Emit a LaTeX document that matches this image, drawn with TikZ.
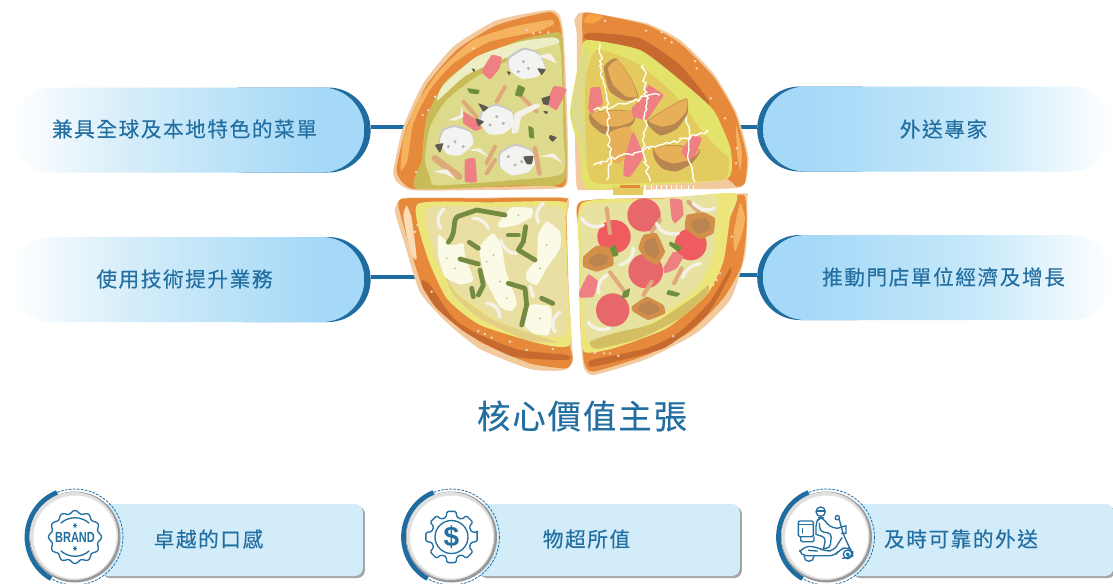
\documentclass[tikz,border=0pt]{standalone}
\usepackage{fontspec}
\usetikzlibrary{shapes.misc,shadows,decorations.pathmorphing}
\newfontfamily\cjk[LetterSpace=7.5,FakeBold=0.25]{Noto Sans CJK TC}
\newfontfamily\cjktitle[LetterSpace=6,FakeBold=0.25]{Noto Sans CJK TC}
\newfontfamily\badgefont{Liberation Sans}
\definecolor{ink}{HTML}{236FA1}
\definecolor{deep}{HTML}{1F6CA0}
\definecolor{card}{HTML}{D3ECF9}
\definecolor{tanedge}{HTML}{F3C99E}
\definecolor{crust}{HTML}{E6893B}
\definecolor{crustlt}{HTML}{F5B25F}
\definecolor{crustdk}{HTML}{C66A30}
\definecolor{cream}{HTML}{FBDDB5}
\definecolor{olive}{HTML}{C9BC58}
\definecolor{sauce}{HTML}{DEDA8B}
\definecolor{paleg}{HTML}{EDEEC4}
\definecolor{mush}{HTML}{F3F3F1}
\definecolor{mushe}{HTML}{C9C9C9}
\definecolor{dark}{HTML}{5E5A50}
\definecolor{pink}{HTML}{EE7F82}
\definecolor{strip}{HTML}{DEAA7C}
\definecolor{leaf}{HTML}{6E8F3B}
\definecolor{onion}{HTML}{F4F1E8}
\definecolor{yell}{HTML}{E3E26B}
\definecolor{gold}{HTML}{E3CB5F}
\definecolor{wedge}{HTML}{E6AF58}
\definecolor{wedged}{HTML}{B8864F}
\definecolor{yell2}{HTML}{ECE67A}
\definecolor{main}{HTML}{E9DFA2}
\definecolor{main2}{HTML}{E7E2A0}
\definecolor{tanlow}{HTML}{D4BE63}
\definecolor{tanlow2}{HTML}{E2CE85}
\definecolor{cheese}{HTML}{FBFAE6}
\definecolor{pepper}{HTML}{768B42}
\definecolor{salami}{HTML}{E8676A}
\definecolor{salami2}{HTML}{EF5C60}
\definecolor{mbrown}{HTML}{D28F4A}
\definecolor{mbrownd}{HTML}{B9844F}
\definecolor{salt}{HTML}{F4D9C2}
\definecolor{pillend}{HTML}{A5D9F7}
\definecolor{pillmid}{HTML}{C6E8FA}
\pgfdeclarehorizontalshading{pillLeft}{100bp}{color(0bp)=(white);color(25bp)=(white);color(43bp)=(card);color(68bp)=(pillend);color(100bp)=(pillend)}
\pgfdeclarehorizontalshading{pillRight}{100bp}{color(0bp)=(pillend);color(32bp)=(pillend);color(55bp)=(pillmid);color(75bp)=(white);color(100bp)=(white)}
\newcommand\blob[2]{\fill[#1] plot[smooth cycle,tension=.35] coordinates {#2};}
\newcommand\chunk[2]{\fill[#1] plot[smooth cycle,tension=.2] coordinates {#2};}
\tikzset{
  pillshape/.style={rounded rectangle,minimum height=63.75pt,inner sep=0pt,draw=none},
  pilllabel/.style={font=\cjk\fontsize{15.5pt}{15.5pt}\selectfont,text=ink,inner sep=0pt},
  link/.style={draw=deep,line width=3.6pt},
  cardbox/.style={rounded corners=6pt,fill=card,minimum height=54pt,inner sep=0pt,
    drop shadow={shadow xshift=1.6pt,shadow yshift=-1.6pt,opacity=.5,fill=black!70}},
  icon/.style={draw=ink,line width=1pt,line cap=round,line join=round},
  stripe/.style={line cap=round,line join=round},
  squig/.style={draw=white!95!yellow,line width=1.05pt,decorate,decoration={random steps,segment length=2.4pt,amplitude=1.6pt}},
  zoomed/.style={x=.25pt,y=-.25pt}
}
\begin{document}
\begin{tikzpicture}[x=.75pt,y=-.75pt]
\useasboundingbox (0,0) rectangle (1113,583);
\fill[white] (0,0) rectangle (1113,583);

% pills
\node[pillshape,fill=deep,minimum width=128pt] (pillAback) at (285.3,130) {};
\node[pillshape,shading=pillLeft,minimum width=265.5pt] (pillA) at (187.3,130) {};
\node[pillshape,fill=deep,minimum width=128pt] (pillBback) at (285.3,279.5) {};
\node[pillshape,shading=pillLeft,minimum width=265.5pt] (pillB) at (187.3,279.5) {};
\node[pillshape,fill=deep,minimum width=107pt] (pillCback) at (828.5,129) {};
\node[pillshape,shading=pillRight,minimum width=262.5pt] (pillC) at (938,129) {};
\node[pillshape,fill=deep,minimum width=107pt] (pillDback) at (828.5,277.5) {};
\node[pillshape,shading=pillRight,minimum width=262.5pt] (pillD) at (938,277.5) {};
\node[pilllabel] (tA) at (184.5,129) {兼具全球及本地特色的菜單};
\node[pilllabel] (tB) at (184.5,279) {使用技術提升業務};
\node[pilllabel] (tC) at (943.5,129) {外送專家};
\node[pilllabel] (tD) at (943.5,277) {推動門店單位經濟及增長};

% connectors
\coordinate (pzA) at (412,127);
\coordinate (pzB) at (418,277);
\coordinate (pzC) at (740,127);
\coordinate (pzD) at (730,275);
\draw[link] (pillAback.east |- pzA) -- (pzA);
\draw[link] (pillBback.east |- pzB) -- (pzB);
\draw[link] (pillCback.west |- pzC) -- (pzC);
\draw[link] (pillDback.west |- pzD) -- (pzD);

% ---------- top pizza slices (3x zoom coordinates)
\begin{scope}[shift={(380,0)},zoomed]
% top-left slice
\blob{tanedge}{(515,30)(540,48)(550,100)(556,200)(563,400)(561,552)(500,567)(300,570)(100,571)(50,545)(40,510)(70,380)(130,250)(220,140)(340,65)(430,42)}
\blob{crust}{(510,36)(535,55)(545,100)(552,250)(558,545)(500,556)(300,562)(100,566)(58,535)(50,500)(80,380)(140,255)(230,150)(340,80)(430,52)}
\blob{crustlt}{(510,60)(522,72)(470,95)(330,125)(220,190)(150,270)(100,370)(82,480)(62,512)(70,420)(110,310)(180,210)(280,120)(400,80)}
\blob{olive}{(510,100)(545,105)(552,250)(554,540)(400,556)(110,566)(125,480)(140,350)(200,240)(300,170)(420,120)}
\blob{sauce}{(530,125)(545,200)(550,400)(548,520)(400,540)(170,556)(150,530)(135,480)(150,380)(200,300)(290,230)(400,175)}
\blob{paleg}{(520,112)(535,130)(400,165)(260,225)(172,302)(190,255)(290,170)(420,125)}
% toppings
\blob{mushe}{(430,143)(475,157)(495,198)(470,228)(425,232)(388,208)(383,173)}
\blob{mush}{(432,150)(475,163)(495,203)(470,231)(425,236)(392,212)(388,178)}
\blob{mushe}{(350,312)(395,332)(400,372)(370,397)(325,397)(298,362)(308,327)}
\blob{mush}{(350,318)(395,337)(400,376)(370,401)(325,402)(302,366)(312,332)}
\blob{mushe}{(225,375)(270,392)(280,427)(240,462)(200,457)(176,422)(188,387)}
\blob{mush}{(225,382)(270,397)(280,431)(240,466)(200,461)(180,426)(192,392)}
\blob{mushe}{(405,432)(450,447)(470,477)(445,512)(395,522)(358,497)(358,457)}
\blob{mush}{(405,438)(450,452)(470,481)(445,516)(395,526)(362,501)(362,462)}
\foreach \a/\b in {430/185,445/205,415/215,350/350,370/370,330/375,225/425,250/440,205/440,405/495,385/470,425/485}{\fill[gray!60] (\a,\b) circle (5);}
\draw[stripe,strip,line width=3pt] (350,305) -- (375,260);
\draw[stripe,strip,line width=3pt] (420,285) -- (470,335);
\draw[stripe,strip,line width=3pt] (250,305) -- (290,350);
\draw[stripe,strip,line width=5pt] (165,475) -- (238,530);
\draw[stripe,strip,line width=3pt] (345,440) -- (320,490);
\draw[stripe,strip,line width=3pt] (345,480) -- (320,520);
\draw[stripe,strip,line width=3.5pt] (465,445) -- (478,520);
\chunk{pink}{(335,165)(365,172)(358,205)(330,238)(305,215)}
\chunk{pink}{(522,258)(560,268)(530,330)(500,310)}
\chunk{pink}{(250,335)(290,360)(305,385)(285,392)(250,370)}
\chunk{pink}{(255,480)(285,475)(290,545)(255,545)}
\chunk{leaf}{(262,265)(298,270)(295,282)(270,280)}
\chunk{leaf}{(415,255)(435,265)(425,290)(405,285)}
\chunk{leaf}{(445,378)(460,385)(462,415)(448,412)}
\chunk{onion}{(395,400)(405,340)(470,310)(480,320)(425,350)(415,395)}
\chunk{onion}{(205,360)(240,345)(245,315)(250,350)(225,362)}
\chunk{onion}{(470,170)(510,160)(530,190)(495,175)}
\chunk{onion}{(265,450)(300,445)(325,470)(295,455)}
\chunk{onion}{(480,470)(520,460)(548,490)(515,472)}
\chunk{onion}{(160,515)(200,508)(225,535)(195,522)}
\chunk{dark}{(472,205)(497,208)(485,225)}
\chunk{dark}{(295,310)(325,322)(310,335)}
\chunk{dark}{(287,355)(312,365)(295,378)}
\chunk{dark}{(485,295)(510,288)(505,315)(490,312)}
\chunk{dark}{(165,435)(190,430)(180,458)}
\chunk{dark}{(430,470)(460,468)(455,492)(440,492)}
\chunk{dark}{(275,205)(285,208)(282,217)}
\chunk{dark}{(380,214)(392,216)(388,226)}
\chunk{dark}{(510,405)(530,412)(518,425)(507,415)}
\chunk{dark}{(490,333)(505,335)(498,343)}
\foreach \a/\b in {460/100,480/97,440/90,145/330,128/345,165/290,108/515,280/145,505/97}{\fill[salt] (\a,\b) circle (4);}

% top-right slice
\blob{tanedge}{(600,38)(640,40)(800,70)(900,120)(1000,220)(1070,340)(1105,470)(1095,550)(1060,565)(850,568)(620,570)(590,560)(585,400)(590,250)(590,100)(583,60)}
\blob{crust}{(608,45)(640,40)(800,75)(900,130)(1000,230)(1065,340)(1100,470)(1095,548)(1070,560)(1030,535)(820,550)(620,560)(612,430)(610,300)(608,150)}
\blob{crustlt}{(1068,375)(1085,450)(1082,510)(1072,470)}
\blob{crustlt!70!orange}{(630,42)(670,50)(640,70)(610,65)}
\blob{crustdk}{(610,108)(640,98)(780,115)(900,195)(985,300)(975,320)(880,240)(760,160)(640,130)}
\blob{yell}{(620,120)(780,150)(900,240)(1000,330)(1050,440)(1055,510)(1030,540)(820,555)(620,566)(600,450)(570,340)(600,170)}
\blob{sauce}{(598,190)(625,150)(610,300)(625,500)(595,400)(572,340)}
\blob{gold}{(650,150)(770,190)(880,280)(960,380)(1040,440)(1045,520)(1020,540)(830,548)(650,550)(622,500)(615,250)}
\blob{yell}{(940,360)(990,390)(1040,430)(1045,470)(1000,430)}
\blob{wedged}{(708,175)(750,230)(775,290)(735,302)(688,272)(672,200)}
\blob{wedge}{(712,180)(750,233)(772,288)(740,290)(700,255)(684,205)}
\blob{wedged}{(630,340)(700,330)(765,335)(760,370)(720,397)(670,402)(632,370)}
\blob{wedge}{(632,340)(700,332)(765,336)(755,365)(710,380)(665,375)}
\blob{wedge}{(685,400)(750,380)(755,440)(720,490)(695,480)}
\blob{wedged}{(920,295)(922,340)(890,387)(840,406)(800,365)(860,325)}
\blob{wedge}{(920,297)(918,335)(885,370)(845,380)(806,362)(860,327)}
\blob{wedged}{(820,445)(880,435)(960,450)(935,490)(890,514)(850,507)(825,480)}
\blob{wedge}{(822,445)(880,437)(958,452)(925,480)(880,490)(840,475)}
\chunk{pink}{(632,265)(660,262)(668,310)(635,340)(625,325)}
\chunk{pink}{(805,255)(850,285)(835,310)(800,360)(760,350)(755,325)(790,290)}
\chunk{pink}{(760,395)(790,470)(750,530)(730,525)(735,470)}
\chunk{pink}{(935,405)(965,415)(945,465)(925,480)(905,455)}
\draw[squig] (660,130) -- (665,210) -- (680,300) -- (685,340) -- (680,400) -- (695,480) -- (680,540);
\draw[squig] (640,495) -- (700,475) -- (790,450) -- (870,430) -- (985,395);
\draw[squig] (640,330) -- (700,320) -- (800,290) -- (840,285);
\draw[squig] (790,195) -- (800,300) -- (790,450) -- (810,545);
\draw[squig] (920,350) -- (930,410) -- (925,480) -- (945,545);
\foreach \a/\b in {675/62,798/92,845/97,855/115,875/127,945/183,950/205,992/295,1070/445,1068/490,1035/355}{\fill[salt] (\a,\b) circle (4);}
\end{scope}

% ---------- bottom pizza slices
\begin{scope}[shift={(380,185)},zoomed]
% overflow of the top slice
\fill[gold] (700,6) rectangle (790,30);
\foreach \a in {795,815,830,845,860,875,890,905,925,940}{\draw[white!95!yellow,line width=1pt] (\a,0) -- (\a,26);}
\fill[crust] (720,0) rectangle (780,8);
% bottom-left slice
\blob{tanedge}{(60,42)(100,38)(300,38)(555,38)(560,100)(566,300)(576,480)(578,530)(550,556)(450,552)(300,492)(200,412)(120,322)(75,180)(45,80)}
\blob{crust}{(55,60)(80,40)(300,40)(555,40)(558,60)(564,300)(570,480)(578,520)(560,550)(450,535)(300,470)(210,395)(130,310)(85,170)}
\blob{cream}{(80,62)(95,100)(110,220)(95,210)(78,140)(70,90)}
\blob{crustdk}{(125,285)(150,300)(220,400)(300,450)(420,495)(560,510)(560,525)(400,515)(260,445)(170,370)(130,310)}
\blob{yell2}{(112,58)(330,52)(550,50)(557,100)(564,300)(570,478)(480,476)(300,420)(200,340)(140,210)}
\blob{main}{(140,72)(340,66)(540,65)(552,150)(562,440)(480,452)(350,405)(230,320)(170,230)}
\blob{tanlow2}{(195,270)(230,325)(340,405)(480,455)(535,472)(440,465)(300,400)(220,330)}
\blob{cheese}{(175,150)(215,180)(250,175)(255,215)(280,285)(240,298)(195,275)(175,215)}
\blob{cheese}{(340,145)(365,185)(378,260)(410,350)(395,378)(360,365)(315,280)(298,195)(310,170)}
\blob{cheese}{(500,110)(540,140)(540,190)(500,250)(470,300)(440,285)(440,260)(470,220)(475,150)}
\blob{cheese}{(395,68)(455,70)(455,95)(410,120)(360,128)(355,115)}
\blob{cheese}{(450,360)(510,365)(515,400)(505,450)(460,445)(435,420)}
\foreach \a/\b in {200/220,225/250,340/210,360/290,380/340,500/180,480/250,415/90,480/400,320/230}{\fill[leaf!55!white] (\a,\b) circle (3);}
\begin{scope}[draw=pepper,line width=3.6pt,stripe]
\draw (205,172) .. controls (232,140) and (215,110) .. (232,95) -- (290,75) -- (375,90);
\draw (240,222) -- (295,237);
\draw (268,172) -- (295,190);
\draw (385,150) -- (415,150);
\draw (437,125) -- (430,170) -- (415,195) -- (465,225);
\draw (300,255) -- (310,300) -- (295,330);
\draw (275,310) -- (280,335);
\draw (385,295) -- (435,310) -- (440,360) -- (425,420);
\draw (485,340) -- (518,355);
\end{scope}
\begin{scope}[draw=onion,line width=2.6pt,stripe]
\draw (192,72) .. controls (170,90) and (170,115) .. (182,130);
\draw (280,100) .. controls (305,100) and (318,115) .. (325,130);
\draw (490,55) .. controls (470,70) and (465,90) .. (475,112);
\draw (320,355) .. controls (345,355) and (358,375) .. (360,397);
\draw (540,382) .. controls (520,395) and (510,420) .. (525,440);
\draw (362,165) .. controls (372,190) and (385,205) .. (408,205);
\draw (450,305) -- (460,335);
\end{scope}
\foreach \a/\b in {105/140,112/120,98/155,155/320,295/438,315/447,335/458,390/470,518/492,440/495}{\fill[salt] (\a,\b) circle (4);}
% bottom-right slice
\blob{tanedge}{(600,50)(850,38)(1090,25)(1102,40)(1097,200)(1052,342)(952,442)(800,522)(640,570)(610,542)(600,420)(598,300)(598,150)}
\blob{crust}{(602,50)(850,40)(1070,30)(1095,35)(1100,120)(1085,240)(1030,340)(930,440)(800,510)(640,560)(612,530)(606,420)(600,300)(600,150)}
\blob{crustlt}{(1080,55)(1095,100)(1085,150)(1065,200)(1060,150)}
\blob{crustdk}{(635,525)(800,490)(900,440)(990,350)(1050,250)(1050,270)(980,390)(850,490)(640,545)}
\blob{yell2}{(605,55)(830,42)(1065,25)(1050,100)(1030,230)(980,330)(860,430)(700,490)(612,500)(602,400)(600,250)}
\blob{main2}{(610,65)(800,48)(1000,30)(1010,90)(1000,200)(950,310)(800,420)(640,480)(615,440)(608,350)(605,200)}
\blob{tanlow}{(630,470)(700,445)(820,415)(950,330)(985,300)(980,330)(900,400)(780,460)(650,492)}
\fill[salami] (792,90) circle (50);
\fill[salami2] (702,155) circle (50);
\fill[salami2] (932,178) circle (48);
\fill[salami] (797,258) circle (52);
\fill[salami] (698,375) circle (50);
\begin{scope}[line width=3pt,stripe,draw=strip]
\draw (680,70) -- (690,145);
\draw (925,50) -- (965,90);
\draw (840,105) -- (815,140);
\draw (905,250) -- (882,295);
\draw (690,262) -- (730,315);
\draw (815,290) -- (790,330);
\end{scope}
\chunk{mbrown}{(610,215)(650,182)(695,190)(700,240)(650,260)(610,245)}
\chunk{mbrownd}{(630,220)(660,205)(685,215)(680,235)(650,245)(628,235)}
\chunk{mbrown}{(790,150)(830,145)(855,200)(830,240)(800,225)(775,190)}
\chunk{mbrownd}{(800,165)(825,160)(838,200)(825,222)(800,205)(792,188)}
\chunk{mbrown}{(920,90)(970,82)(1005,100)(1000,145)(960,162)(915,130)}
\chunk{mbrownd}{(940,105)(975,100)(990,115)(985,135)(955,145)(935,125)}
\chunk{mbrown}{(755,365)(800,335)(850,360)(855,385)(805,405)(760,380)}
\chunk{mbrownd}{(775,365)(805,350)(835,365)(838,378)(805,390)(778,378)}
\chunk{pink}{(870,42)(905,45)(910,90)(885,115)(875,100)}
\chunk{pink}{(880,200)(910,215)(890,250)(855,265)(850,250)}
\chunk{pink}{(625,268)(655,290)(640,335)(600,338)(598,320)}
\chunk{leaf}{(705,180)(715,210)(700,215)(690,190)}
\chunk{leaf}{(870,170)(905,185)(895,200)(868,180)}
\chunk{leaf}{(730,320)(750,310)(745,335)(725,340)}
\chunk{leaf}{(865,315)(900,325)(890,335)(860,328)}
\begin{scope}[draw=onion,line width=2.6pt,stripe]
\draw (605,100) .. controls (620,125) and (650,130) .. (670,120);
\draw (940,55) .. controls (960,75) and (985,80) .. (1003,70);
\draw (830,115) .. controls (840,145) and (870,150) .. (895,145);
\draw (760,190) .. controls (760,220) and (740,235) .. (720,240);
\draw (962,235) .. controls (935,240) and (915,255) .. (908,278);
\draw (682,270) .. controls (660,280) and (650,305) .. (657,325);
\draw (625,412) .. controls (640,432) and (665,438) .. (688,430);
\end{scope}
\foreach \a/\b in {1057/75,1020/265,1010/285,1000/300,1055/155,880/453,715/512,672/505,690/505,645/503}{\fill[salt] (\a,\b) circle (4);}
\end{scope}

% title
\node[font=\cjktitle\fontsize{25pt}{25pt}\selectfont,text=ink,inner sep=0pt] (title) at (582,416) {核心價值主張};

% ---------- bottom cards
\node[cardbox,minimum width=197pt] (cardA) at (231.5,540) {};
\node[cardbox,minimum width=197pt] (cardB) at (608.5,540) {};
\node[cardbox,minimum width=197pt] (cardC) at (982,540) {};
\node[pilllabel] (lA) at (208.5,539) {卓越的口感};
\node[pilllabel] (lB) at (586.5,539) {物超所值};
\node[pilllabel] (lC) at (961,539) {及時可靠的外送};

\foreach \n/\cx in {A/75,B/451.5,C/826.5}{
  \coordinate (ring\n) at (\cx,537);
  \draw[deep,line width=.6pt,dash pattern=on 2pt off 1pt] (ring\n) circle (48);
  \draw[deep,line width=3.6pt] (ring\n) ++(-112:48) arc[start angle=-112,end angle=-240,radius=48];
  \fill[black!40] (ring\n) circle (45.5);
  \fill[black!12] (ring\n) ++(-1,-1) circle (44);
  \fill[white] (ring\n) circle (41.5);
}

% BRAND badge
\begin{scope}[shift={(ringA)}]
\draw[icon] plot[domain=0:360,samples=145,smooth] ({(25+1.5*cos(12*\x))*cos(\x)},{(25+1.5*cos(12*\x))*sin(\x)});
\draw[icon] (-14,-14) .. controls (-6,-21) and (6,-21) .. (14,-14);
\draw[icon] (-14,14) .. controls (-6,21) and (6,21) .. (14,14);
\node[font=\badgefont\bfseries\fontsize{11pt}{11pt}\selectfont,text=ink,inner sep=0pt,xscale=.75] (brandtext) at (0,0.5) {BRAND};
\foreach \yy in {-11.5,11.5}{
  \foreach \ang in {0,60,120}{\draw[ink,line width=.6pt] (0,\yy) ++(\ang:2.4) -- ++(\ang+180:4.8);}
}
\end{scope}

% dollar gear
\begin{scope}[shift={(ringB)}]
\draw[icon,rounded corners=1pt] (-10:26)
  \foreach \a in {0,45,...,315}{ -- (\a-10:26) -- (\a+10:26) -- (\a+15:20.5) -- (\a+30:20.5)} -- cycle;
\draw[icon] (0,0) circle (16.5);
\node[font=\badgefont\bfseries\fontsize{21pt}{21pt}\selectfont,text=ink,inner sep=0pt] (dollar) at (0,0) {\$};
\end{scope}

% scooter rider
\begin{scope}[shift={(780,495)},zoomed]
\draw[icon,rounded corners=1pt] (55,78) rectangle (100,125);
\draw[icon] (55,88) -- (100,88);
\draw[icon] (68,100) -- (68,114);
\draw[icon,rounded corners=1pt] (62,125) -- (62,140) -- (102,140) -- (102,125);
\draw[icon] (122,50) circle (14);
\draw[icon] (110,48) -- (134,48);
\draw[icon,rounded corners=3pt] (108,118) -- (108,82) -- (118,68) -- (128,68) -- (148,95) -- (172,100);
\draw[icon,rounded corners=3pt] (118,85) -- (120,110) -- (155,115) -- (150,160) -- (132,160);
\draw[icon,rounded corners=3pt] (108,118) -- (138,128) -- (130,163);
\draw[icon] (172,68) circle (6.5);
\draw[icon] (178,74) -- (190,118) -- (212,165);
\draw[icon] (172,100) -- (198,92) -- (198,115) -- (185,115);
\draw[icon,rounded corners=4pt] (60,170) -- (78,152) -- (115,158) -- (135,168) -- (160,168) -- (186,128);
\draw[icon,rounded corners=4pt] (60,170) -- (62,182) -- (165,182) -- (178,165) -- (200,155) -- (218,168) -- (218,185) -- (188,190);
\draw[icon] (72,184) arc[start angle=180,end angle=0,radius=15];
\draw[icon] (203,178) circle (13);
\draw[icon] (203,178) circle (4);
\draw[icon] (85,166) -- (112,168);
\end{scope}
\end{tikzpicture}
\end{document}
